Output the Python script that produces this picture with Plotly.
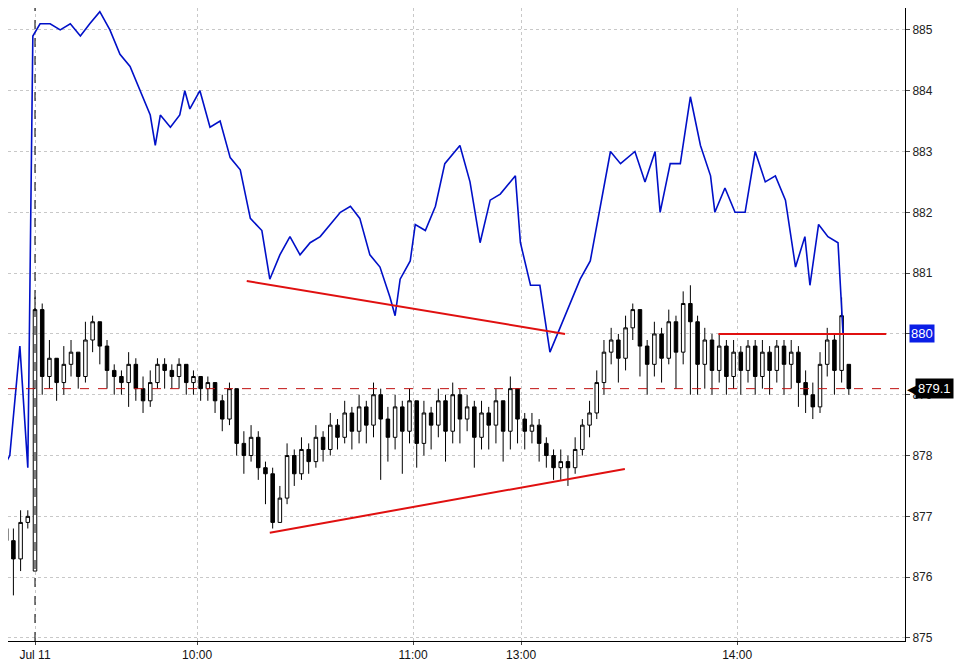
import plotly.graph_objects as go

# candles, one per 2-minute slot (slot 0 = Jul 11 open)
slots = list(range(-4, 114))
closes = [876.6, 876.3, 876.9, 877.0,
          880.4, 879.3, 879.6, 879.2, 879.5, 879.7, 879.3, 879.9, 880.2, 879.8,
          879.4, 879.3, 879.2, 879.5, 879.1, 878.9, 879.2, 879.5, 879.4, 879.3,
          879.5, 879.2, 879.3, 879.1, 879.2, 878.9, 878.6, 879.1, 878.2, 878.0,
          878.3, 877.8, 877.7, 876.9, 877.3, 878.0, 877.7, 878.1, 877.9, 878.3,
          878.1, 878.5, 878.3, 878.7, 878.4, 878.8, 878.5, 879.0, 878.6, 878.3,
          878.8, 878.4, 878.9, 878.2, 878.7, 878.5, 878.9, 878.4, 879.0, 878.6,
          878.8, 878.3, 878.7, 878.5, 878.9, 878.4, 879.1, 878.6, 878.4, 878.5,
          878.2, 878.0, 877.8, 877.9, 877.8, 878.1, 878.5, 878.7, 879.2, 879.7,
          879.9, 879.6, 880.1, 880.4, 879.8, 879.5, 880.0, 879.6, 880.2, 879.7,
          880.5, 880.2, 879.5, 879.9, 879.4, 879.8, 879.3, 879.7, 879.4, 879.8,
          879.3, 879.7, 879.4, 879.8, 879.5, 879.7, 879.2, 879.0, 878.8, 879.5,
          879.9, 879.4, 880.3, 879.1]
highs = [876.9, 876.8, 877.1, 877.1,
         880.6, 880.5, 879.9, 879.5, 879.8, 879.9, 879.7, 880.2, 880.3, 880.2,
         879.9, 879.5, 879.4, 879.7, 879.6, 879.3, 879.4, 879.6, 879.6, 879.5,
         879.6, 879.5, 879.4, 879.3, 879.3, 879.2, 879.0, 879.2, 879.1, 878.4,
         878.5, 878.4, 877.9, 877.8, 877.5, 878.2, 878.1, 878.3, 878.2, 878.5,
         878.4, 878.7, 878.6, 878.9, 878.8, 879.0, 878.9, 879.2, 879.1, 878.8,
         879.0, 878.9, 879.1, 878.9, 878.9, 878.8, 879.1, 879.0, 879.2, 879.1,
         879.0, 878.9, 878.9, 878.8, 879.1, 878.9, 879.3, 879.1, 878.7, 878.7,
         878.6, 878.3, 878.1, 878.1, 878.0, 878.3, 878.6, 878.9, 879.4, 879.9,
         880.1, 880.0, 880.3, 880.5, 880.4, 879.9, 880.2, 880.1, 880.4, 880.3,
         880.7, 880.8, 880.3, 880.1, 880.0, 880.0, 879.9, 879.9, 879.8, 879.9,
         879.9, 879.9, 879.8, 879.9, 879.9, 879.9, 879.8, 879.4, 879.2, 879.7,
         880.1, 880.0, 880.6, 879.5]
lows = [876.0, 875.7, 876.1, 876.8,
        876.1, 879.0, 879.1, 878.9, 879.0, 879.3, 879.1, 879.2, 879.7, 879.5,
        879.1, 879.0, 879.0, 878.8, 878.9, 878.7, 878.8, 879.1, 879.1, 879.1,
        879.1, 879.0, 879.0, 878.9, 878.9, 878.7, 878.4, 878.5, 878.0, 877.7,
        877.9, 877.6, 877.2, 876.8, 876.9, 877.2, 877.5, 877.6, 877.7, 877.8,
        877.9, 878.0, 878.1, 878.2, 878.1, 878.2, 878.2, 878.3, 877.6, 877.9,
        878.1, 877.7, 878.2, 877.8, 878.0, 878.1, 878.3, 877.9, 878.2, 878.2,
        878.4, 877.8, 878.1, 878.1, 878.2, 877.9, 878.1, 878.2, 878.1, 878.2,
        877.9, 877.8, 877.6, 877.6, 877.5, 877.7, 878.0, 878.3, 878.6, 879.0,
        879.5, 879.2, 879.4, 879.9, 879.3, 879.0, 879.3, 879.2, 879.5, 879.1,
        879.5, 879.0, 879.0, 879.1, 879.0, 879.2, 879.0, 879.1, 879.0, 879.2,
        879.0, 879.1, 879.0, 879.2, 879.0, 879.1, 878.8, 878.7, 878.6, 878.7,
        879.3, 879.0, 879.2, 879.0]
opens = [876.8] + closes[:-1]
opens[4] = 876.1
opens[-1] = 879.5

# blue comparison line
blue_x = [-4.9, -3.5, -2.1, -1.0, -0.3, 0.7, 2.1, 3.5, 4.9, 6.3, 7.6, 9.0, 10.4,
          11.8, 13.2, 14.6, 16.0, 16.7, 17.4, 18.8, 20.1, 20.8, 21.5, 22.9, 24.3,
          25.7, 27.1, 28.5, 29.9, 31.5, 32.6, 34.0, 35.4, 36.8, 38.2, 39.6, 41.0,
          42.4, 43.8, 45.1, 46.5, 47.9, 49.3, 50.0, 50.7, 52.1, 52.8, 54.2, 55.6,
          56.9, 59.0, 60.4, 61.8, 63.2, 64.6, 66.7, 67.4, 68.8, 70.1, 71.5, 72.9,
          74.3, 75.7, 77.1, 78.5, 79.9, 81.3, 83.3, 84.7, 86.1, 86.8, 88.2, 89.6,
          91.0, 92.4, 93.8, 94.4, 95.8, 97.2, 98.6, 100.0, 101.4, 102.8, 104.2,
          105.6, 106.9, 107.6, 108.8, 110.1, 111.5, 112.2]
blue_y = [877.7, 878.0, 879.8, 877.8, 884.9, 885.1, 885.1, 885.0, 885.1, 884.9,
          885.1, 885.3, 885.0, 884.6, 884.4, 884.0, 883.6, 883.1, 883.6, 883.4,
          883.6, 884.0, 883.7, 884.0, 883.4, 883.5, 882.9, 882.7, 881.9, 881.7,
          880.9, 881.3, 881.6, 881.3, 881.5, 881.6, 881.8, 882.0, 882.1, 881.9,
          881.3, 881.1, 880.6, 880.3, 880.9, 881.2, 881.8, 881.7, 882.1, 882.8,
          883.1, 882.5, 881.5, 882.2, 882.3, 882.6, 881.5, 880.8, 880.8, 879.7,
          880.1, 880.5, 880.9, 881.2, 882.1, 883.0, 882.8, 883.0, 882.5, 883.0,
          882.0, 882.8, 882.8, 883.9, 883.1, 882.6, 882.0, 882.4, 882.0, 882.0,
          883.0, 882.5, 882.6, 882.2, 881.1, 881.6, 880.8, 881.8, 881.6, 881.5,
          880.0]

# trend lines drawn on the chart
upper_trend = ([29.4, 73.6], [880.87, 880.0])
lower_trend = ([32.6, 81.9], [876.73, 877.78])
flat_line = ([94.9, 118.2], [880.0, 880.0])
last_price = 879.1

tick_vals = [0, 22.5, 52.5, 67.5, 97.5]
tick_text = ["Jul 11", "10:00", "11:00", "13:00", "14:00"]

fig = go.Figure()
fig.add_trace(go.Candlestick(
    x=slots, open=opens, high=highs, low=lows, close=closes,
    increasing=dict(line=dict(color="black", width=1), fillcolor="white"),
    decreasing=dict(line=dict(color="black", width=1), fillcolor="black"),
    whiskerwidth=0, hoverinfo="skip"))
fig.add_trace(go.Scatter(x=blue_x, y=blue_y, mode="lines",
                         line=dict(color="#0010c8", width=1.6)))
for xs, ys in [upper_trend, lower_trend, flat_line]:
    fig.add_trace(go.Scatter(x=xs, y=ys, mode="lines",
                             line=dict(color="#e01010", width=2)))

fig.add_hline(y=last_price, line=dict(color="#c01010", width=1, dash="dash"))
fig.add_vline(x=0, line=dict(color="black", width=1, dash="dash"))

fig.add_annotation(x=1.005, xref="paper", y=880.0, yref="y", text="880",
                   showarrow=False, xanchor="left", bgcolor="#0a1ee6",
                   font=dict(color="white", size=13, family="Arial"), borderpad=1)
fig.add_annotation(x=1.0, xref="paper", y=last_price, yref="y", text="◀",
                   showarrow=False, xanchor="left",
                   font=dict(color="black", size=18, family="DejaVu Sans"))
fig.add_annotation(x=1.011, xref="paper", y=last_price, yref="y", text="879.1",
                   showarrow=False, xanchor="left", bgcolor="black",
                   font=dict(color="white", size=13, family="Arial"), borderpad=2)

# page is drawn with an 8px body offset, so size and ranges allow for it
fig.update_layout(
    width=966, height=654, showlegend=False,
    margin=dict(l=0, r=69, t=0, b=17),
    paper_bgcolor="white", plot_bgcolor="white",
    font=dict(family="Arial", size=12, color="#222"),
    xaxis=dict(range=[-3.75, 120.8], tickvals=tick_vals, ticktext=tick_text,
               showgrid=True, gridcolor="#c8c8c8", griddash="dot",
               rangeslider=dict(visible=False), showline=True,
               linecolor="black", ticks="outside", ticklen=3, zeroline=False,
               tickfont=dict(size=12, color="#111")),
    yaxis=dict(range=[874.95, 885.36], side="right", dtick=1,
               showgrid=True, gridcolor="#c8c8c8", griddash="dot",
               showline=True, linecolor="black", ticks="outside", ticklen=4,
               zeroline=False),
)

fig.write_html("out.html")
